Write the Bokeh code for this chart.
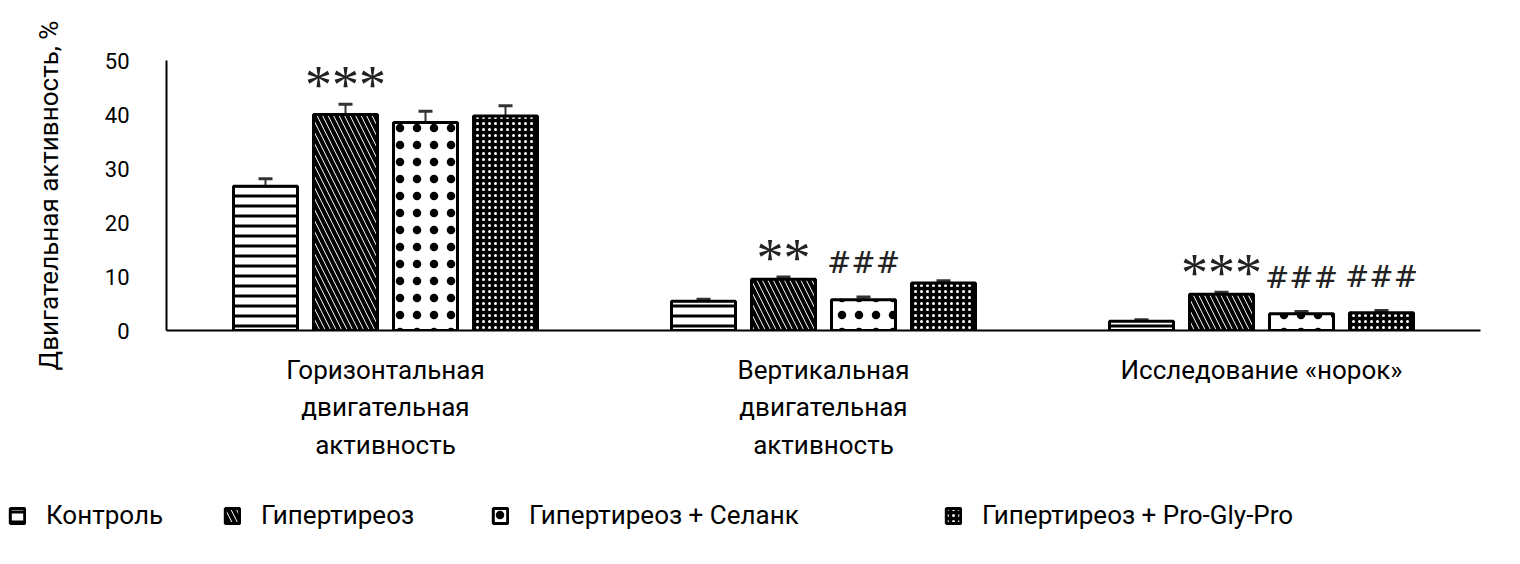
from bokeh.plotting import figure
from bokeh.layouts import column
from bokeh.models import (FactorRange, Range1d, ColumnDataSource, Whisker, TeeHead,
                          Legend, LegendItem, SingleIntervalTicker)
from bokeh.transform import dodge
from bokeh.core.properties import value
from bokeh.embed import file_html
from bokeh.resources import INLINE

groups = ["Горизонтальная\nдвигательная\nактивность",
          "Вертикальная\nдвигательная\nактивность",
          "Исследование «норок»"]
series = ["Контроль", "Гипертиреоз", "Гипертиреоз + Селанк", "Гипертиреоз + Pro-Gly-Pro"]

control = [26.7, 5.4, 1.7]
control_err = [1.4, 0.4, 0.3]
hyper = [40.0, 9.5, 6.7]
hyper_err = [1.9, 0.4, 0.4]
selank = [38.5, 5.7, 3.1]
selank_err = [2.1, 0.5, 0.4]
pgp = [39.7, 8.8, 3.3]
pgp_err = [1.9, 0.4, 0.4]

y_ticks_interval = 10
y_max = 50

mark_group = [0, 1, 1, 2, 2, 2]
mark_series = [1, 1, 2, 1, 2, 3]
mark_text = ["***", "**", "###", "***", "###", "###"]

LABEL_FONT = "Roboto"

values = [control, hyper, selank, pgp]
errors = [control_err, hyper_err, selank_err, pgp_err]

p = figure(width=1504, height=470, output_backend="svg", toolbar_location=None,
           x_range=FactorRange(factors=groups, range_padding=0),
           y_range=Range1d(0, y_max),
           min_border_left=166, min_border_right=24, min_border_top=60,
           min_border_bottom=140)
p.outline_line_color = None
p.xgrid.grid_line_color = None
p.ygrid.grid_line_color = None

slot = 80 / 438
offsets = [-1.5 * slot, -0.5 * slot, 0.5 * slot, 1.5 * slot]
bar_w = 64 / 438

styles = [
    dict(fill_color="white", hatch_pattern="horizontal_line", hatch_color="black",
         hatch_scale=10, hatch_weight=3),
    dict(fill_color="white", hatch_pattern="left_diagonal_line", hatch_color="black",
         hatch_scale=11, hatch_weight=4),
    dict(fill_color="white", hatch_pattern="dot", hatch_color="black",
         hatch_scale=17, hatch_weight=1),
    dict(fill_color="black", hatch_pattern="dot", hatch_color="white",
         hatch_scale=6, hatch_weight=1.6),
]

sources = []
for i in range(4):
    src = ColumnDataSource(dict(g=groups, v=values[i],
                                up=[a + b for a, b in zip(values[i], errors[i])],
                                lo=[a - b for a, b in zip(values[i], errors[i])]))
    sources.append(src)
    p.vbar(x=dodge("g", offsets[i], range=p.x_range), top="v", width=bar_w,
           source=src, line_color="black", line_width=3, **styles[i])
    w = Whisker(base=dodge("g", offsets[i], range=p.x_range), upper="up", lower="lo",
                source=src, line_color="#333333", line_width=2,
                upper_head=TeeHead(size=14, line_color="#333333", line_width=3),
                lower_head=TeeHead(size=14, line_color="#333333", line_width=3))
    p.add_layout(w)

for gi, si, t in zip(mark_group, mark_series, mark_text):
    top = values[si][gi] + errors[si][gi]
    src = ColumnDataSource(dict(g=[groups[gi]], y=[top], t=[t]))
    if t.startswith("*"):
        p.text(x=dodge("g", offsets[si], range=p.x_range), y="y", text="t", source=src,
               text_font=value("Liberation Serif"), text_font_size="54px",
               text_align="center", text_baseline="bottom", y_offset=11,
               text_color="#222222")
    else:
        p.text(x=dodge("g", offsets[si], range=p.x_range), y="y", text="t", source=src,
               text_font=value("DejaVu Serif"), text_font_size="29px",
               text_align="center", text_baseline="bottom", y_offset=-17,
               text_color="#222222")

# axes
p.yaxis.ticker = SingleIntervalTicker(interval=y_ticks_interval)
p.yaxis.major_tick_line_color = None
p.yaxis.minor_tick_line_color = None
p.yaxis.major_tick_out = 0
p.yaxis.major_label_standoff = 33
p.yaxis.major_label_text_font = LABEL_FONT
p.yaxis.major_label_text_font_size = "22px"
p.yaxis.major_label_text_color = "black"
p.yaxis.axis_line_width = 2
p.yaxis.axis_line_color = "black"
p.yaxis.axis_label = "Двигательная активность, %"
p.yaxis.axis_label_text_font = LABEL_FONT
p.yaxis.axis_label_text_font_size = "26px"
p.yaxis.axis_label_text_font_style = "normal"
p.yaxis.axis_label_text_color = "black"
p.yaxis.axis_label_standoff = 38

p.xaxis.major_tick_line_color = None
p.xaxis.major_tick_out = 0
p.xaxis.major_label_standoff = 24
p.xaxis.major_label_text_font = LABEL_FONT
p.xaxis.major_label_text_font_size = "26px"
p.xaxis.major_label_text_line_height = 1.25
p.xaxis.major_label_text_color = "black"
p.xaxis.axis_line_width = 2
p.xaxis.axis_line_color = "black"

# legend panel
p2 = figure(width=1504, height=78, output_backend="svg", toolbar_location=None,
            x_range=p.x_range, y_range=Range1d(0, 1), min_border=0)
p2.frame_align = False
p2.axis.visible = False
p2.grid.visible = False
p2.outline_line_color = None

leg_x = [8, 223, 491, 944]
for i in range(4):
    r = p2.vbar(x=dodge("g", offsets[i], range=p.x_range), top="v", width=bar_w,
                source=sources[i], line_color="black", line_width=3, **styles[i])
    r.visible = False
    lg = Legend(items=[LegendItem(label=series[i], renderers=[r])],
                location=(leg_x[i], 18), orientation="horizontal",
                padding=0, margin=0, spacing=0, border_line_color=None,
                background_fill_alpha=0, glyph_width=18, glyph_height=19,
                label_standoff=20, label_text_font=LABEL_FONT,
                label_text_font_size="26px", label_text_color="black",
                inactive_fill_alpha=0)
    p2.add_layout(lg)

open("out.html", "w").write(file_html(column(p, p2, spacing=0), INLINE))
